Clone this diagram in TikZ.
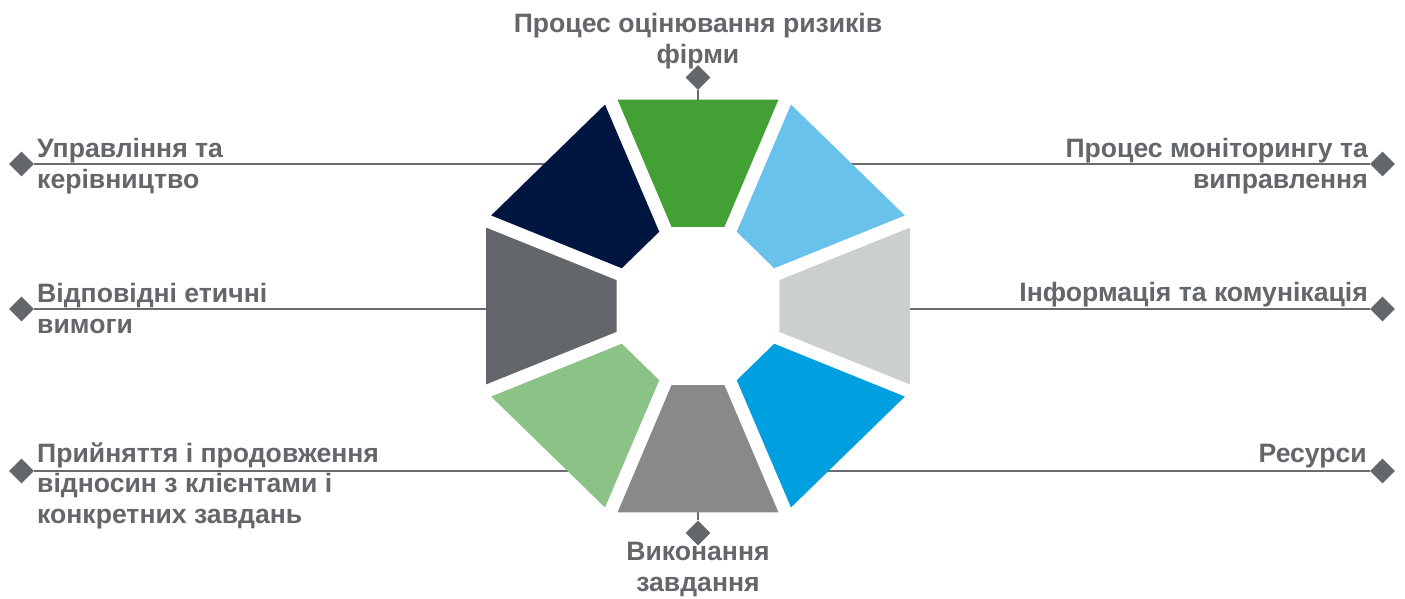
\documentclass[tikz,border=0pt]{standalone}
\usepackage{fontspec}
\setmainfont{Liberation Sans}
\usetikzlibrary{shapes.geometric}
\definecolor{txtgray}{RGB}{99,102,106}
\definecolor{linegray}{RGB}{105,107,111}
\definecolor{sgreen}{RGB}{67,160,53}
\definecolor{snavy}{RGB}{0,22,64}
\definecolor{sdgray}{RGB}{99,102,106}
\definecolor{slgreen}{RGB}{139,195,134}
\definecolor{smgray}{RGB}{135,137,139}
\definecolor{sblue}{RGB}{0,159,223}
\definecolor{slgray}{RGB}{203,207,208}
\definecolor{slblue}{RGB}{104,194,235}
\begin{document}
\begin{tikzpicture}[x=1pt,y=-1pt,
  lbl/.style={font=\bfseries\fontsize{26.6}{30.5}\selectfont, text=txtgray, inner sep=0pt},
  dia/.style={diamond, fill=txtgray, minimum width=25pt, minimum height=25pt, inner sep=0pt},
  conn/.style={draw=linegray, line width=2.2pt}]
\useasboundingbox (0,0) rectangle (1405,599);
\fill[white] (0,0) rectangle (1405,599);
% diamonds
\node[dia] (dT) at (698,77.5) {};
\node[dia] (dB) at (698,533) {};
\node[dia] (dL1) at (21.5,164) {};
\node[dia] (dL2) at (21.5,309) {};
\node[dia] (dL3) at (21.5,471) {};
\node[dia] (dR1) at (1382.5,164) {};
\node[dia] (dR2) at (1382.5,309) {};
\node[dia] (dR3) at (1382.5,471) {};
% connector ends (inside segments)
\coordinate (eT) at (698,150);
\coordinate (eB) at (698,450);
\coordinate (eL1) at (600,164);
\coordinate (eL2) at (550,309);
\coordinate (eL3) at (600,471);
\coordinate (eR1) at (796,164);
\coordinate (eR2) at (850,309);
\coordinate (eR3) at (796,471);
\foreach \n in {T,B,L1,L2,L3,R1,R2,R3}{\draw[conn] (d\n) -- (e\n);}
% octagon segments
\foreach \k/\c in {0/sgreen,1/snavy,2/sdgray,3/slgreen,4/smgray,5/sblue,6/slgray,7/slblue}{
  \begin{scope}[shift={(698,306)}, yscale=0.974, rotate=\k*45]
    \fill[\c] (-80.5,-212) -- (80.5,-212) -- (26.5,-81.3) -- (-26.5,-81.3) -- cycle;
  \end{scope}}
% labels (anchor base = baseline of the last line)
\node[lbl, anchor=base, align=center] (tT) at (698,63.3) {Процес оцінювання ризиків\\фірми};
\node[lbl, anchor=base, align=center] (tB) at (698,591) {Виконання\\завдання};
\node[lbl, anchor=base west, align=left] (tL1) at (37,188.3) {Управління та\\керівництво};
\node[lbl, anchor=base west, align=left] (tL2) at (37,333.3) {Відповідні етичні\\вимоги};
\node[lbl, anchor=base west, align=left] (tL3) at (37,523.3) {Прийняття і продовження\\відносин з клієнтами і\\конкретних завдань};
\node[lbl, anchor=base east, align=right] (tR1) at (1368,188.3) {Процес моніторингу та\\виправлення};
\node[lbl, anchor=base east, align=right] (tR2) at (1368,301.7) {Інформація та комунікація};
\node[lbl, anchor=base east, align=right] (tR3) at (1367,462.3) {Ресурси};
\end{tikzpicture}
\end{document}
